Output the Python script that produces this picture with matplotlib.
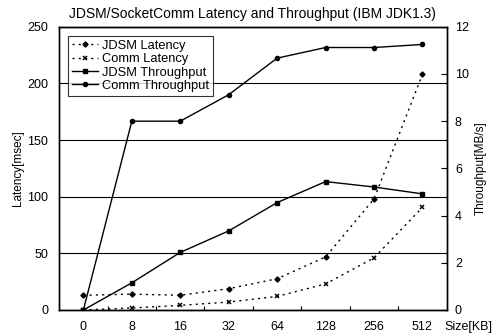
import matplotlib

matplotlib.use("Agg")

import matplotlib.pyplot as plt
from matplotlib.ticker import FixedLocator

plt.rcParams["font.family"] = ["Liberation Sans", "DejaVu Sans"]

sizes = ["0", "8", "16", "32", "64", "128", "256", "512"]
jdsm_latency = [13, 14, 13, 18.8, 27.6, 46.8, 98, 208]
comm_latency = [0, 1.8, 4.1, 7, 12, 23, 46, 90.6]
jdsm_throughput = [0, 1.15, 2.44, 3.35, 4.55, 5.44, 5.21, 4.92]
comm_throughput = [0, 8.0, 8.0, 9.12, 10.67, 11.12, 11.12, 11.25]

x = list(range(len(sizes)))

fig = plt.figure(figsize=(4.93, 3.36), dpi=100)
ax = fig.add_axes([0.120, 0.0774, 0.786, 0.843])
ax2 = ax.twinx()

dot = (0, (1.5, 3))
lat1, = ax.plot(x, jdsm_latency, linestyle=dot, color="black", lw=1,
                marker="D", markersize=2.6, label="JDSM Latency")
lat2, = ax.plot(x, comm_latency, linestyle=dot, color="black", lw=1,
                marker="x", markersize=3, markeredgewidth=1.1, label="Comm Latency")
thr1, = ax2.plot(x, jdsm_throughput, color="black", lw=1,
                 marker="s", markersize=3.3, label="JDSM Throughput")
thr2, = ax2.plot(x, comm_throughput, color="black", lw=1,
                 marker="o", markersize=3, label="Comm Throughput")

ax.set_xlim(-0.5, 7.5)
ax.set_ylim(0, 250)
ax2.set_ylim(0, 12)
ax.set_yticks([0, 50, 100, 150, 200, 250])
ax2.set_yticks([0, 2, 4, 6, 8, 10, 12])
ax.set_xticks(x)
ax.set_xticklabels(sizes)
ax.xaxis.set_minor_locator(FixedLocator([i + 0.5 for i in range(7)]))
ax.tick_params(axis="x", which="major", length=0, labelsize=9, pad=8)
ax.tick_params(axis="x", which="minor", direction="in", length=3, width=0.8)
ax.tick_params(axis="y", length=0, labelsize=9, pad=8)
ax2.tick_params(axis="y", direction="in", length=4, width=0.8, labelsize=9, pad=6)

ax.yaxis.grid(True, color="black", lw=0.8)
ax.set_axisbelow(True)
for a in (ax, ax2):
    for s in a.spines.values():
        s.set_linewidth(1)

ax.set_ylabel("Latency[msec]", fontsize=8.5, labelpad=2)
ax2.set_ylabel("Throughput[MB/s]", fontsize=8.5, rotation=90, labelpad=4)
ax.set_title("JDSM/SocketComm Latency and Throughput (IBM JDK1.3)", fontsize=10, pad=6)
ax.text(0.995, -0.04, "Size[KB]", transform=ax.transAxes, fontsize=9,
        ha="left", va="top")

leg = ax.legend(handles=[lat1, lat2, thr1, thr2], loc="upper left",
                bbox_to_anchor=(0.023, 0.967), fontsize=9.3, frameon=True,
                fancybox=False, edgecolor="black", handlelength=2,
                handletextpad=0.3, borderpad=0.3, labelspacing=0.1,
                borderaxespad=0)
leg.get_frame().set_linewidth(0.8)
leg.set_zorder(10)

fig.savefig("out.png", dpi=100)
